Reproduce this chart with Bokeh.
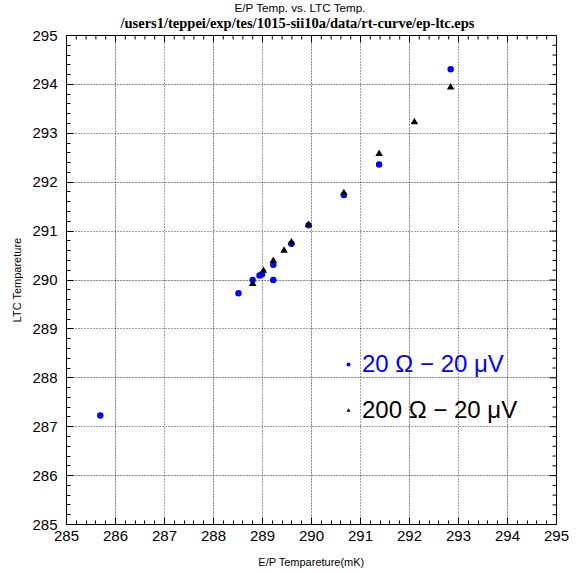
import numpy as np
from bokeh.plotting import figure
from bokeh.models import (LinearAxis, SingleIntervalTicker, Legend, LegendItem,
                          Range1d, Grid, Title)
from bokeh.embed import file_html
from bokeh.resources import INLINE

# ---- data ----
blue_x = [285.69, 288.51, 288.80, 288.94, 288.99, 289.22, 289.22, 289.59, 289.94, 290.66, 291.38, 292.84]
blue_y = [287.23, 289.73, 290.00, 290.09, 290.12, 290.00, 290.31, 290.74, 291.12, 291.74, 292.36, 294.31]
tri_x = [288.80, 289.02, 289.22, 289.44, 289.59, 289.94, 290.66, 291.38, 292.10, 292.84]
tri_y = [289.92, 290.19, 290.39, 290.60, 290.77, 291.13, 291.78, 292.58, 293.23, 293.94]
blue_label = "20 \u03a9 \u2212 20 \u03bcV"
tri_label = "200 \u03a9 \u2212 20 \u03bcV"
title1 = "E/P Temp. vs. LTC Temp."
title2 = "/users1/teppei/exp/tes/1015-sii10a/data/rt-curve/ep-ltc.eps"
xlabel = "E/P Tempareture(mK)"
ylabel = "LTC Tempareture"
x_range = (285, 295)
y_range = (285, 295)

FONT = "Liberation Sans"
W, H = 578, 573
BL, BR, BT, BB = 66, 22, 35, 49
FW, FH = W - BL - BR, H - BT - BB
MAJ, MIN = 7, 4

p = figure(width=W, height=H, output_backend="svg", toolbar_location=None,
           x_range=Range1d(*x_range), y_range=Range1d(*y_range),
           x_axis_location=None, y_axis_location=None,
           min_border_left=BL, min_border_right=BR, min_border_top=BT, min_border_bottom=BB)
p.background_fill_color = "white"
p.border_fill_color = "white"
p.outline_line_color = "black"
p.outline_line_width = 1

def make_axis(standoff, label, label_standoff):
    ax = LinearAxis(ticker=SingleIntervalTicker(interval=1, num_minor_ticks=5))
    ax.major_tick_in = MAJ
    ax.major_tick_out = 0
    ax.minor_tick_in = MIN
    ax.minor_tick_out = 0
    ax.axis_line_color = "black"
    ax.major_tick_line_color = "black"
    ax.minor_tick_line_color = "black"
    ax.major_label_text_font = FONT
    ax.major_label_text_font_size = "15px"
    ax.major_label_text_color = "black"
    ax.major_label_standoff = standoff
    ax.axis_label = label
    ax.axis_label_text_font = FONT
    ax.axis_label_text_font_size = "11px"
    ax.axis_label_text_font_style = "normal"
    ax.axis_label_text_color = "black"
    ax.axis_label_standoff = label_standoff
    return ax

p.add_layout(make_axis(6, xlabel, 12), "below")
p.add_layout(make_axis(9, ylabel, 6), "left")

# tick marks on the top and right edges of the frame (inside), like the bottom/left axes
xpd = (x_range[1] - x_range[0]) / FW
ypd = (y_range[1] - y_range[0]) / FH
xt = np.round(np.arange(x_range[0], x_range[1] + 1e-9, 0.2), 6)
yt = np.round(np.arange(y_range[0], y_range[1] + 1e-9, 0.2), 6)
xlen = np.where(np.isclose(xt % 1, 0) | np.isclose(xt % 1, 1), MAJ, MIN)
ylen = np.where(np.isclose(yt % 1, 0) | np.isclose(yt % 1, 1), MAJ, MIN)
p.segment(x0=xt, y0=np.full_like(xt, y_range[1]), x1=xt, y1=y_range[1] - xlen * ypd,
          line_color="black", line_width=1)
p.segment(x0=np.full_like(yt, x_range[1]), y0=yt, x1=x_range[1] - ylen * xpd, y1=yt,
          line_color="black", line_width=1)

for dim in (0, 1):
    g = Grid(dimension=dim, ticker=SingleIntervalTicker(interval=1))
    g.grid_line_color = "black"
    g.grid_line_dash = "1 2"
    g.grid_line_alpha = 0.75
    g.grid_line_width = 1
    p.add_layout(g, "center")

r_blue = p.scatter(blue_x, blue_y, marker="circle", size=6.5, fill_color="blue", line_color=None)
r_tri = p.scatter(tri_x, tri_y, marker="triangle", size=7.5, fill_color="black", line_color=None)

def make_legend(item_label, renderer, color, loc):
    lg = Legend(items=[LegendItem(label=item_label, renderers=[renderer])], location=loc)
    lg.padding = 0
    lg.margin = 0
    lg.spacing = 0
    lg.glyph_width = 10
    lg.glyph_height = 10
    lg.label_height = 28
    lg.label_standoff = 9
    lg.label_text_font = FONT
    lg.label_text_font_size = "24px"
    lg.label_text_color = color
    lg.border_line_color = None
    lg.background_fill_alpha = 0
    return lg

p.add_layout(make_legend(blue_label, r_blue, "blue", (277, 146)), "center")
p.add_layout(make_legend(tri_label, r_tri, "black", (277, 100)), "center")

t2 = Title(text=title2, align="left", offset=54, standoff=9,
           text_font="Liberation Serif", text_font_size="14.5px", text_font_style="bold",
           text_color="black")
t1 = Title(text=title1, align="left", offset=168, standoff=-10,
           text_font=FONT, text_font_size="11.7px", text_font_style="normal",
           text_color="black")
p.add_layout(t2, "above")
p.add_layout(t1, "above")

open("out.html", "w", encoding="utf-8").write(file_html(p, INLINE))
